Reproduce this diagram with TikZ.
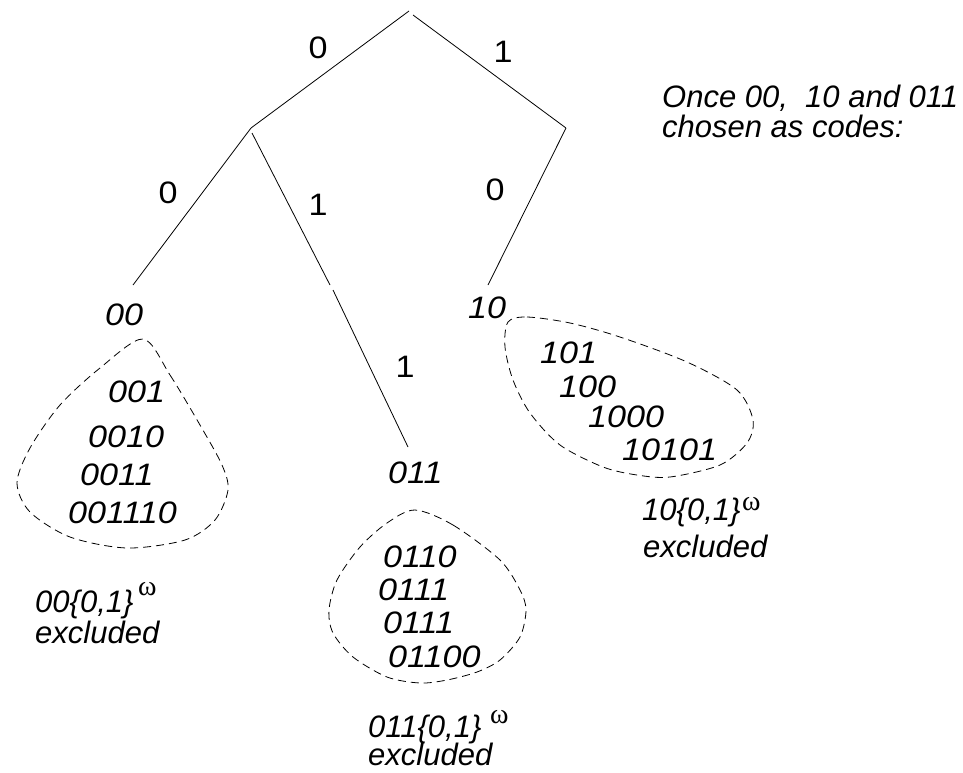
\documentclass[tikz,border=0pt]{standalone}
\usepackage{fontspec}
\setmainfont{Liberation Sans}
\newfontfamily\omegafont{Liberation Serif}
% digit strings are set slightly wide
\newcommand{\dg}[1]{\scalebox{1.1}[1]{#1}}
\begin{document}
\begin{tikzpicture}[x=1pt,y=-1pt,
  branch/.style={line width=0.8pt},
  blob/.style={line width=0.8pt,dash pattern=on 8pt off 5pt},
  code/.style={inner sep=0pt,anchor=base west,font=\fontsize{31}{36}\selectfont\itshape},
  edgelbl/.style={inner sep=0pt,anchor=center,font=\fontsize{31}{36}\selectfont},
  omega/.style={inner sep=0pt,anchor=base west,font=\fontsize{28}{30}\omegafont}]
\useasboundingbox (0,0) rectangle (963,772);

% tree skeleton
\coordinate (r0) at (409,11);
\coordinate (r1) at (413,15);
\coordinate (n0) at (251,128);
\coordinate (n0b) at (252,133);
\coordinate (n1) at (566,128);
\coordinate (l00) at (133,285);
\coordinate (m1) at (330,285);
\coordinate (m2) at (333,290);
\coordinate (l011) at (408,447);
\coordinate (l10) at (488,285);

\draw[branch] (r0) -- (n0);
\draw[branch] (r1) -- (n1);
\draw[branch] (n0) -- (l00);
\draw[branch] (n0b) -- (m1);
\draw[branch] (m2) -- (l011);
\draw[branch] (n1) -- (l10);

% branch labels
\node[edgelbl] (e0) at (318,48) {\dg{0}};
\node[edgelbl] (e1) at (503,52) {\dg{1}};
\node[edgelbl] (e00) at (168,193) {\dg{0}};
\node[edgelbl] (e01) at (318,205) {\dg{1}};
\node[edgelbl] (e10) at (495,190) {\dg{0}};
\node[edgelbl] (e011) at (405,367) {\dg{1}};

% leaf names
\node[code] (c00) at (105,325) {\dg{00}};
\node[code] (c10) at (468,318) {\dg{10}};
\node[code] (c011) at (388,483) {\dg{011}};

% excluded words under 00
\draw[blob] plot[smooth cycle] coordinates {(143,339) (170,375) (200,425) (222,465) (228,490) (215,520) (185,540) (127,548) (70,537) (30,512) (17,483) (30,448) (60,405) (100,368)};
\node[code] (a1) at (108,402) {\dg{001}};
\node[code] (a2) at (88,447) {\dg{0010}};
\node[code] (a3) at (80,485) {\dg{0011}};
\node[code] (a4) at (68,523) {\dg{001110}};
\node[code] (a5) at (35,612) {00\{0,1\}};
\node[omega] (a6) at (138,595) {ω};
\node[code] (a7) at (35,643) {excluded};

% excluded words under 011
\draw[blob] plot[smooth cycle] coordinates {(415,510) (453,525) (500,560) (520,590) (526,610) (520,637) (500,660) (477,672) (447,680) (420,683) (387,677) (353,657) (333,633) (329,610) (337,580) (360,547) (387,523)};
\node[code] (b1) at (383,567) {\dg{0110}};
\node[code] (b2) at (378,600) {\dg{0111}};
\node[code] (b3) at (383,633) {\dg{0111}};
\node[code] (b4) at (388,667) {\dg{01100}};
\node[code] (b5) at (368,737) {011\{0,1\}};
\node[omega] (b6) at (490,723) {ω};
\node[code] (b7) at (368,765) {excluded};

% excluded words under 10
\draw[blob] plot[smooth cycle] coordinates {(508,322) (527,317) (570,323) (620,337) (687,362) (737,390) (753,420) (747,443) (720,465) (670,477) (637,475) (603,467) (560,445) (530,413) (513,380) (505,347)};
\node[code] (d1) at (540,363) {\dg{101}};
\node[code] (d2) at (559,397) {\dg{100}};
\node[code] (d3) at (588,427) {\dg{1000}};
\node[code] (d4) at (622,460) {\dg{10101}};
\node[code] (d5) at (642,520) {10\{0,1\}};
\node[omega] (d6) at (742,510) {ω};
\node[code] (d7) at (643,557) {excluded};

% caption
\node[code] (t1) at (662,107) {Once 00,\ \ 10 and 011};
\node[code] (t2) at (662,137) {chosen as codes:};
\end{tikzpicture}
\end{document}
